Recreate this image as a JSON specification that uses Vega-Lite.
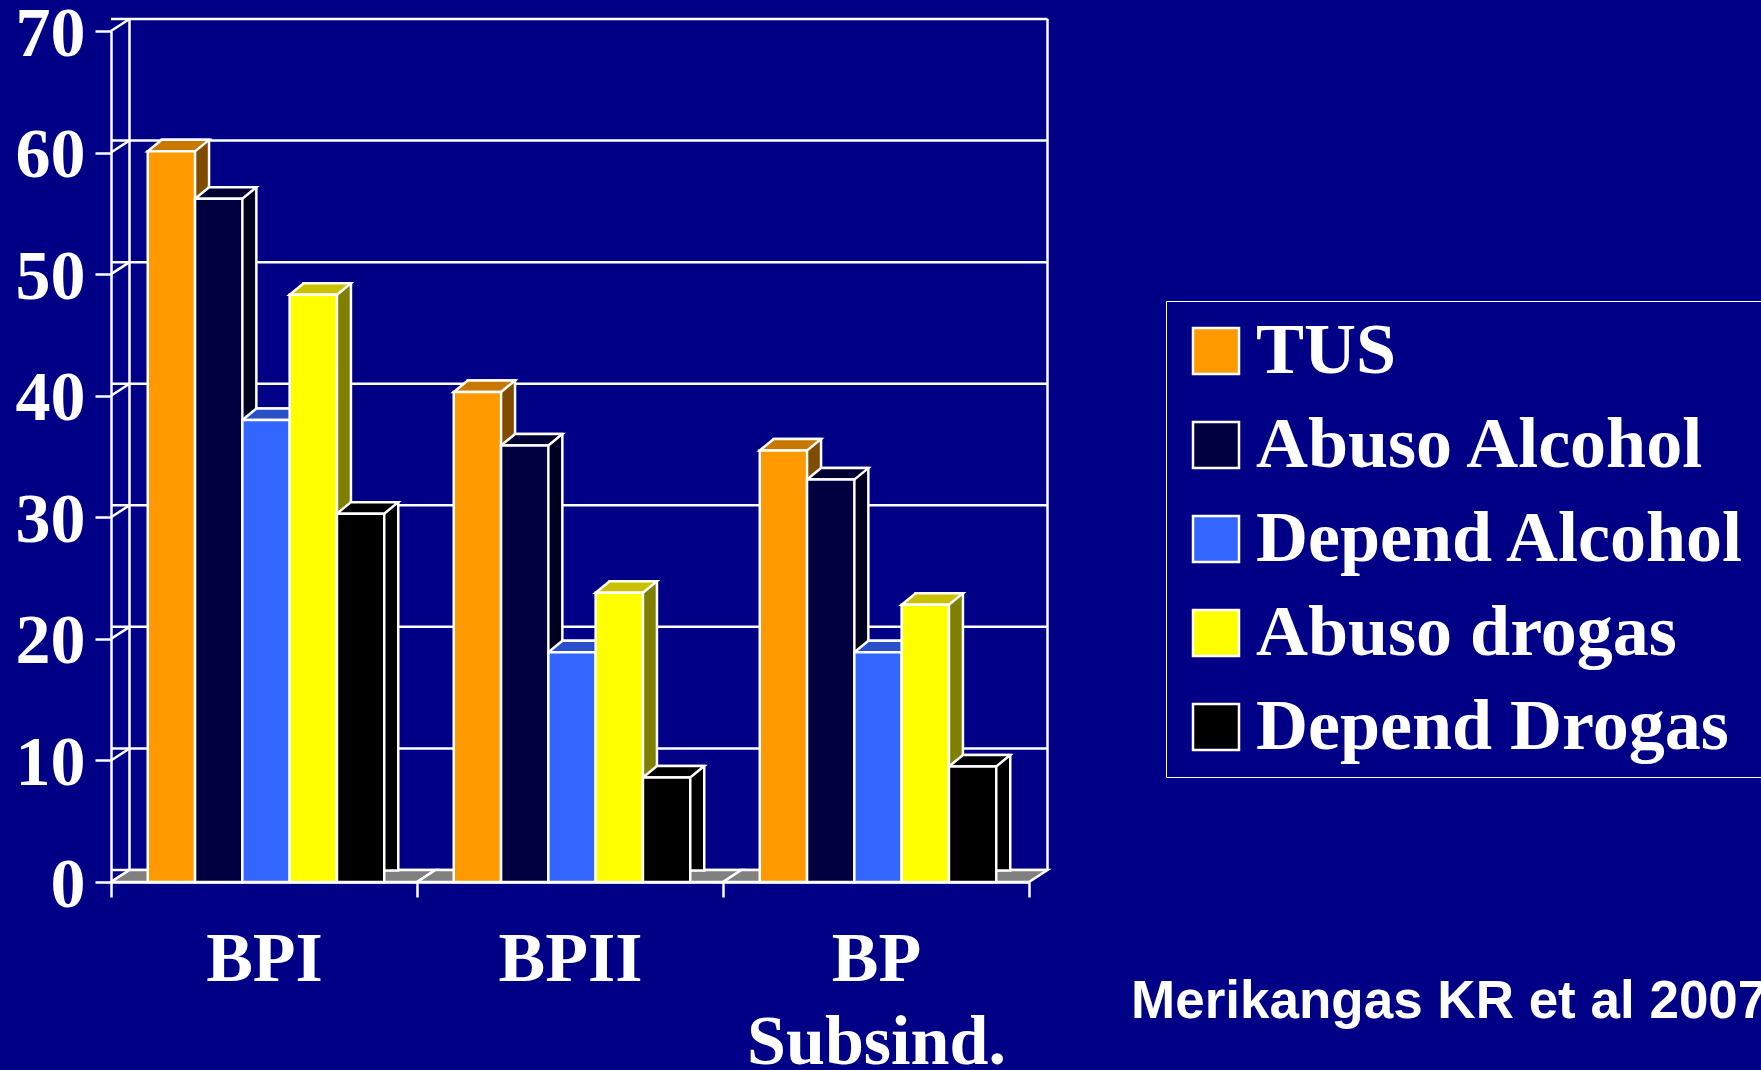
{
  "$schema": "https://vega.github.io/schema/vega-lite/v6.json",
  "width": 918,
  "height": 851,
  "autosize": {"type": "none"},
  "padding": {"left": 111, "top": 31, "right": 732, "bottom": 188},
  "background": "#000086",
  "datasets": {
    "datos": [
      {"Trastorno": "BPI", "Serie": "TUS", "Valor": 60.1},
      {"Trastorno": "BPI", "Serie": "Abuso Alcohol", "Valor": 56.2},
      {"Trastorno": "BPI", "Serie": "Depend Alcohol", "Valor": 38.0},
      {"Trastorno": "BPI", "Serie": "Abuso drogas", "Valor": 48.3},
      {"Trastorno": "BPI", "Serie": "Depend Drogas", "Valor": 30.3},
      {"Trastorno": "BPII", "Serie": "TUS", "Valor": 40.3},
      {"Trastorno": "BPII", "Serie": "Abuso Alcohol", "Valor": 35.9},
      {"Trastorno": "BPII", "Serie": "Depend Alcohol", "Valor": 18.9},
      {"Trastorno": "BPII", "Serie": "Abuso drogas", "Valor": 23.8},
      {"Trastorno": "BPII", "Serie": "Depend Drogas", "Valor": 8.6},
      {"Trastorno": "BP Subsind.", "Serie": "TUS", "Valor": 35.5},
      {"Trastorno": "BP Subsind.", "Serie": "Abuso Alcohol", "Valor": 33.1},
      {"Trastorno": "BP Subsind.", "Serie": "Depend Alcohol", "Valor": 18.9},
      {"Trastorno": "BP Subsind.", "Serie": "Abuso drogas", "Valor": 22.8},
      {"Trastorno": "BP Subsind.", "Serie": "Depend Drogas", "Valor": 9.5}
    ],
    "niveles": [{"v": 0}, {"v": 10}, {"v": 20}, {"v": 30}, {"v": 40}, {"v": 50}, {"v": 60}, {"v": 70}],
    "trastornos": [{"Trastorno": "BPI"}, {"Trastorno": "BPII"}, {"Trastorno": "BP Subsind."}]
  },
  "data": {"name": "datos"},
  "title": {
    "text": "Merikangas KR et al 2007",
    "orient": "bottom",
    "anchor": "start",
    "frame": "group",
    "dx": 1020,
    "dy": -105,
    "font": "Liberation Sans",
    "fontSize": 53,
    "fontWeight": "bold",
    "color": "white"
  },
  "layer": [
    {
      "data": {"name": "niveles"},
      "mark": {"type": "rule", "color": "white", "strokeWidth": 2.5, "xOffset": 18.5, "x2Offset": 18.5, "yOffset": -12},
      "encoding": {
        "y": {"field": "v", "type": "quantitative", "scale": {"domain": [0, 70], "nice": false}, "title": null}
      }
    },
    {
      "data": {"name": "niveles"},
      "mark": {"type": "point", "shape": "M-1,0.649L1,-0.649", "size": 342, "filled": false, "stroke": "white", "strokeWidth": 2.5, "opacity": 1, "xOffset": 9.25, "yOffset": -6},
      "encoding": {
        "x": {"datum": "BPI", "type": "nominal", "bandPosition": 0, "scale": {"domain": ["BPI", "BPII", "BP Subsind."], "paddingInner": 0, "paddingOuter": 0}, "title": null},
        "y": {"field": "v", "type": "quantitative", "scale": {"domain": [0, 70], "nice": false}, "title": null}
      }
    },
    {
      "data": {"values": [{}]},
      "mark": {"type": "rule", "color": "white", "strokeWidth": 2.5, "xOffset": 18.5, "yOffset": -12, "y2Offset": -12},
      "encoding": {
        "x": {"datum": "BPI", "type": "nominal", "bandPosition": 0, "scale": {"domain": ["BPI", "BPII", "BP Subsind."], "paddingInner": 0, "paddingOuter": 0}, "title": null},
        "y": {"datum": 70, "type": "quantitative", "scale": {"domain": [0, 70], "nice": false}, "title": null},
        "y2": {"datum": 0}
      }
    },
    {
      "data": {"values": [{}]},
      "mark": {"type": "rule", "color": "white", "strokeWidth": 2.5, "xOffset": 18.5, "yOffset": -12, "y2Offset": -12},
      "encoding": {
        "x": {"datum": "BP Subsind.", "type": "nominal", "bandPosition": 1, "scale": {"domain": ["BPI", "BPII", "BP Subsind."], "paddingInner": 0, "paddingOuter": 0}, "title": null},
        "y": {"datum": 70, "type": "quantitative", "scale": {"domain": [0, 70], "nice": false}, "title": null},
        "y2": {"datum": 0}
      }
    },
    {
      "data": {"name": "trastornos"},
      "mark": {"type": "point", "shape": "M-1,0L0.886,0L1,-0.074L-0.886,-0.074Z", "size": 105300, "filled": true, "fill": "#808080", "stroke": "white", "strokeWidth": 2.5, "opacity": 1, "xOffset": 9.25},
      "encoding": {
        "x": {"field": "Trastorno", "type": "nominal", "scale": {"domain": ["BPI", "BPII", "BP Subsind."], "paddingInner": 0, "paddingOuter": 0}, "title": null},
        "y": {"datum": 0, "type": "quantitative", "scale": {"domain": [0, 70], "nice": false}, "title": null}
      }
    },
    {
      "mark": {"type": "bar", "yOffset": -11.5, "y2Offset": -5, "stroke": "white", "strokeWidth": 2.5},
      "encoding": {
        "x": {"field": "Trastorno", "type": "nominal", "scale": {"domain": ["BPI", "BPII", "BP Subsind."], "paddingInner": 0, "paddingOuter": 0}, "title": null},
        "xOffset": {"field": "Serie", "type": "nominal", "scale": {"type": "band", "domain": ["TUS", "Abuso Alcohol", "Depend Alcohol", "Abuso drogas", "Depend Drogas"], "range": [16, 322], "paddingInner": 0, "paddingOuter": 0.7347}},
        "y": {"field": "Valor", "type": "quantitative", "scale": {"domain": [0, 70], "nice": false}, "title": null},
        "fill": {"field": "Serie", "type": "nominal", "scale": {"domain": ["TUS", "Abuso Alcohol", "Depend Alcohol", "Abuso drogas", "Depend Drogas"], "range": ["#804C00", "#000020", "#1A3380", "#808000", "#000000"]}, "legend": null}
      }
    },
    {
      "mark": {"type": "point", "shape": "M-1,0L0.543,0L1,-0.375L-0.543,-0.375Z", "size": 3758, "filled": true, "stroke": "white", "strokeWidth": 2.5, "opacity": 1},
      "encoding": {
        "x": {"field": "Trastorno", "type": "nominal", "scale": {"domain": ["BPI", "BPII", "BP Subsind."], "paddingInner": 0, "paddingOuter": 0}, "title": null},
        "xOffset": {"field": "Serie", "type": "nominal", "scale": {"type": "band", "domain": ["TUS", "Abuso Alcohol", "Depend Alcohol", "Abuso drogas", "Depend Drogas"], "range": [9, 315], "paddingInner": 0, "paddingOuter": 0.7347}},
        "y": {"field": "Valor", "type": "quantitative", "scale": {"domain": [0, 70], "nice": false}, "title": null},
        "fill": {"field": "Serie", "type": "nominal", "scale": {"domain": ["TUS", "Abuso Alcohol", "Depend Alcohol", "Abuso drogas", "Depend Drogas"], "range": ["#C87800", "#000033", "#2A50C8", "#C8C000", "#000000"]}, "legend": null}
      }
    },
    {
      "mark": {"type": "bar", "stroke": "white", "strokeWidth": 2.5},
      "encoding": {
        "x": {"field": "Trastorno", "type": "nominal", "scale": {"domain": ["BPI", "BPII", "BP Subsind."], "paddingInner": 0, "paddingOuter": 0}, "title": null},
        "xOffset": {"field": "Serie", "type": "nominal", "scale": {"type": "band", "domain": ["TUS", "Abuso Alcohol", "Depend Alcohol", "Abuso drogas", "Depend Drogas"], "range": [2, 308], "paddingInner": 0, "paddingOuter": 0.7347}},
        "y": {"field": "Valor", "type": "quantitative", "scale": {"domain": [0, 70], "nice": false}, "title": null},
        "color": {"field": "Serie", "type": "nominal", "scale": {"domain": ["TUS", "Abuso Alcohol", "Depend Alcohol", "Abuso drogas", "Depend Drogas"], "range": ["#FF9900", "#000040", "#3366FF", "#FFFF00", "#000000"]}, "title": null}
      }
    }
  ],
  "resolve": {"scale": {"fill": "independent", "xOffset": "independent"}},
  "config": {
    "view": {"stroke": null},
    "axis": {
      "labelFont": "Liberation Serif",
      "labelFontWeight": "bold",
      "labelColor": "white",
      "labelFontSize": 70,
      "domainColor": "white",
      "domainWidth": 2.5,
      "tickColor": "white",
      "tickWidth": 2.5,
      "grid": false
    },
    "axisY": {"tickCount": 7, "tickSize": 16, "labelPadding": 10, "labelOffset": 3},
    "axisX": {
      "tickBand": "extent",
      "tickSize": 15,
      "labelPadding": 28,
      "labelAngle": 0,
      "labelLimit": 500,
      "labelLineHeight": 83,
      "labelExpr": "datum.value == 'BP Subsind.' ? ['BP', 'Subsind.'] : datum.label"
    },
    "legend": {
      "orient": "none",
      "legendX": 1055,
      "legendY": 270,
      "labelFont": "Liberation Serif",
      "labelFontWeight": "bold",
      "labelFontSize": 72,
      "labelColor": "white",
      "labelLimit": 1000,
      "labelOffset": 4,
      "symbolType": "square",
      "symbolSize": 2116,
      "symbolStrokeColor": "white",
      "symbolStrokeWidth": 2.5,
      "symbolOpacity": 1,
      "rowPadding": 22,
      "padding": 14,
      "strokeColor": "white"
    }
  }
}
